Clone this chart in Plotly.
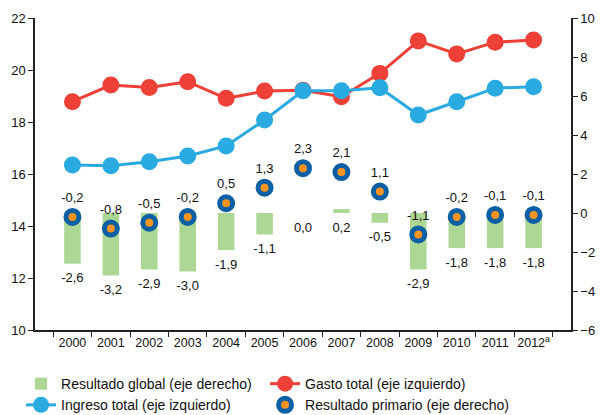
import plotly.graph_objects as go

years = ["2000","2001","2002","2003","2004","2005","2006","2007","2008","2009","2010","2011","2012"]
tick_labels = ["2000","2001","2002","2003","2004","2005","2006","2007","2008","2009","2010","2011","2012<sup>a</sup>"]
gasto_total = [18.78, 19.42, 19.33, 19.55, 18.91, 19.19, 19.22, 18.97, 19.87, 21.12, 20.62, 21.07, 21.15]
ingreso_total = [16.35, 16.32, 16.47, 16.69, 17.08, 18.08, 19.20, 19.20, 19.32, 18.27, 18.78, 19.30, 19.36]
resultado_global = [-2.6, -3.2, -2.9, -3.0, -1.9, -1.1, 0.0, 0.2, -0.5, -2.9, -1.8, -1.8, -1.8]
resultado_primario = [-0.2, -0.8, -0.5, -0.2, 0.5, 1.3, 2.3, 2.1, 1.1, -1.1, -0.2, -0.1, -0.1]

def fmt(v):
    return ("%.1f" % v).replace(".", ",")

RED = "#ee4036"
BLUE = "#29abe2"
DARK = "#0b5fa5"
ORANGE = "#f7931e"
GREEN = "#acd794"
FONT = "Liberation Sans, Arial, sans-serif"

fig = go.Figure()
fig.add_trace(go.Bar(x=years, y=resultado_global, yaxis="y2", name="Resultado global (eje derecho)",
                     marker=dict(color=GREEN, line=dict(width=0)), width=0.43))
fig.add_trace(go.Scatter(x=years, y=gasto_total, name="Gasto total (eje izquierdo)", mode="lines+markers",
                         line=dict(color=RED, width=3), marker=dict(color=RED, size=17)))
fig.add_trace(go.Scatter(x=years, y=ingreso_total, name="Ingreso total (eje izquierdo)", mode="lines+markers",
                         line=dict(color=BLUE, width=3), marker=dict(color=BLUE, size=17)))
fig.add_trace(go.Scatter(x=years, y=resultado_primario, yaxis="y2", name="Resultado primario (eje derecho)",
                         mode="markers",
                         marker=dict(color=ORANGE, size=13, line=dict(color=DARK, width=5))))
# labels for resultado primario (above markers)
fig.add_trace(go.Scatter(x=years, y=[v + 0.6 for v in resultado_primario], yaxis="y2", mode="text",
                         text=[fmt(v) for v in resultado_primario], textposition="top center",
                         textfont=dict(size=13, color="#111"), showlegend=False, hoverinfo="skip"))
# labels for resultado global (below bars)
fig.add_trace(go.Scatter(x=years, y=[min(v, 0) - 0.45 for v in resultado_global], yaxis="y2", mode="text",
                         text=[fmt(v) for v in resultado_global], textposition="bottom center",
                         textfont=dict(size=13, color="#111"), showlegend=False, hoverinfo="skip"))

fig.update_layout(
    width=596, height=407,
    margin=dict(l=27, r=33, t=10, b=85, autoexpand=False),
    plot_bgcolor="white", paper_bgcolor="white",
    font=dict(family=FONT, size=13, color="#111"),
    bargap=0.5,
    xaxis=dict(type="category", tickvals=years, ticktext=tick_labels, showline=True, linecolor="#222",
               linewidth=1.5, ticks="outside", tickson="boundaries", ticklen=5, tickcolor="#222",
               showgrid=False, tickfont=dict(size=12.5), tickangle=0, automargin=False),
    yaxis=dict(range=[10, 22], dtick=2, showline=True, linecolor="#222", linewidth=1.5, ticks="outside",
               ticklen=5, tickcolor="#222", showgrid=False, zeroline=False, tickfont=dict(size=13),
               automargin=False),
    yaxis2=dict(range=[-6, 10], dtick=2, overlaying="y", side="right", showline=True, linecolor="#222",
                linewidth=1.5, ticks="outside", ticklen=5, tickcolor="#222", showgrid=False,
                zeroline=False, tickfont=dict(size=13), automargin=False),
    legend=dict(orientation="h", x=-0.026, y=-0.122, xanchor="left", yanchor="top",
                font=dict(size=14), entrywidth=199, itemwidth=30, traceorder="normal",
                tracegroupgap=0),
)

fig.write_html("out.html")
